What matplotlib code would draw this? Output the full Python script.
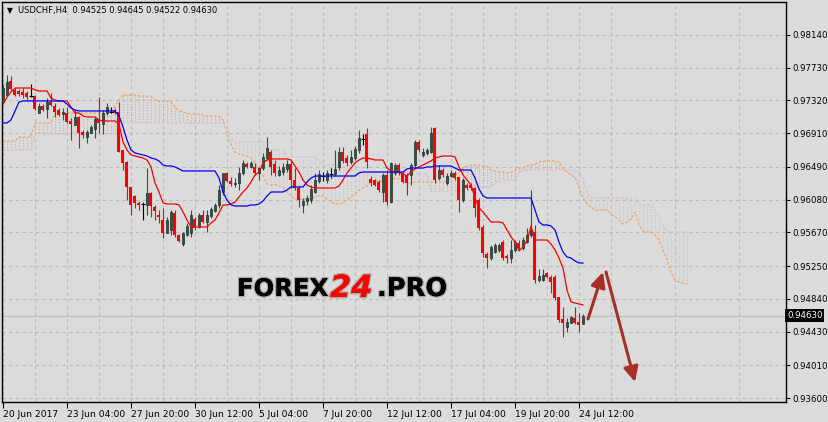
import numpy as np
import matplotlib
matplotlib.use('Agg')
import matplotlib.pyplot as plt
import matplotlib.patheffects as pe

SYMBOL = "USDCHF,H4"

# H4 candles, 20 Jun 2017 .. 24 Jul 2017 16:00
open_ = [
    0.97300, 0.97388, 0.97563, 0.97450, 0.97438, 0.97425, 0.97413, 0.97375, 0.97375, 0.97163,
    0.97250, 0.97213, 0.97300, 0.97250, 0.97200, 0.97150, 0.97163, 0.97063, 0.97013, 0.97113,
    0.96925, 0.96863, 0.96913, 0.96963, 0.97088, 0.97025, 0.97163, 0.97175, 0.97200, 0.97175,
    0.96700, 0.96550, 0.96238, 0.96125, 0.96038, 0.96025, 0.96013, 0.96163, 0.95988, 0.95888,
    0.95825, 0.95663, 0.95700, 0.95913, 0.95638, 0.95525, 0.95638, 0.95663, 0.95838, 0.95738,
    0.95888, 0.95800, 0.95875, 0.95938, 0.96013, 0.96175, 0.96413, 0.96313, 0.96275, 0.96288,
    0.96413, 0.96525, 0.96488, 0.96488, 0.96413, 0.96475, 0.96600, 0.96675, 0.96525, 0.96388,
    0.96425, 0.96463, 0.96525, 0.96325, 0.96225, 0.96013, 0.96063, 0.96075, 0.96175, 0.96313,
    0.96375, 0.96325, 0.96400, 0.96400, 0.96488, 0.96675, 0.96600, 0.96550, 0.96600, 0.96700,
    0.96838, 0.96900, 0.96338, 0.96325, 0.96300, 0.96175, 0.96388, 0.96050, 0.96413, 0.96513,
    0.96413, 0.96388, 0.96388, 0.96513, 0.96800, 0.96638, 0.96663, 0.96675, 0.96975, 0.96350,
    0.96450, 0.96288, 0.96375, 0.96413, 0.96363, 0.96075, 0.96263, 0.96263, 0.96225, 0.96075,
    0.95738, 0.95400, 0.95350, 0.95425, 0.95450, 0.95550, 0.95375, 0.95350, 0.95450, 0.95538,
    0.95475, 0.95550, 0.95638, 0.95675, 0.95075, 0.95075, 0.95163, 0.95113, 0.95113, 0.94863,
    0.94588, 0.94488, 0.94538, 0.94600, 0.94550, 0.94525,
]
high = [
    0.97525, 0.97638, 0.97625, 0.97475, 0.97463, 0.97475, 0.97438, 0.97525, 0.97388, 0.97288,
    0.97275, 0.97350, 0.97413, 0.97288, 0.97225, 0.97225, 0.97238, 0.97100, 0.97200, 0.97125,
    0.96950, 0.96950, 0.97013, 0.97113, 0.97363, 0.97200, 0.97288, 0.97238, 0.97225, 0.97300,
    0.96700, 0.96563, 0.96238, 0.96138, 0.96063, 0.96050, 0.96475, 0.96175, 0.96013, 0.95950,
    0.95975, 0.95863, 0.95950, 0.95950, 0.95650, 0.95675, 0.95788, 0.95950, 0.95863, 0.95913,
    0.95950, 0.95950, 0.95988, 0.96038, 0.96263, 0.96413, 0.96425, 0.96363, 0.96350, 0.96488,
    0.96575, 0.96550, 0.96563, 0.96538, 0.96488, 0.96663, 0.96863, 0.96700, 0.96575, 0.96500,
    0.96538, 0.96575, 0.96575, 0.96475, 0.96250, 0.96100, 0.96138, 0.96263, 0.96413, 0.96450,
    0.96425, 0.96450, 0.96475, 0.96700, 0.96738, 0.96738, 0.96638, 0.96700, 0.96750, 0.96950,
    0.96900, 0.96975, 0.96375, 0.96338, 0.96325, 0.96413, 0.96450, 0.96550, 0.96538, 0.96538,
    0.96425, 0.96413, 0.96538, 0.96825, 0.96825, 0.96725, 0.96725, 0.96988, 0.96988, 0.96513,
    0.96475, 0.96413, 0.96450, 0.96438, 0.96363, 0.96350, 0.96288, 0.96288, 0.96238, 0.96100,
    0.95763, 0.95425, 0.95513, 0.95538, 0.95538, 0.95575, 0.95400, 0.95575, 0.95575, 0.95575,
    0.95613, 0.95725, 0.96200, 0.95763, 0.95213, 0.95213, 0.95175, 0.95138, 0.95138, 0.94863,
    0.94738, 0.94600, 0.94625, 0.94738, 0.94663, 0.94645,
]
low = [
    0.97275, 0.97375, 0.97450, 0.97375, 0.97375, 0.97350, 0.97325, 0.97363, 0.97200, 0.97163,
    0.97188, 0.97100, 0.97250, 0.97113, 0.97125, 0.97075, 0.97038, 0.96825, 0.97013, 0.96725,
    0.96850, 0.96788, 0.96913, 0.96850, 0.96913, 0.96900, 0.97138, 0.97163, 0.97150, 0.96675,
    0.96450, 0.96075, 0.95888, 0.95975, 0.95950, 0.95825, 0.95888, 0.95863, 0.95825, 0.95788,
    0.95600, 0.95663, 0.95638, 0.95613, 0.95550, 0.95500, 0.95625, 0.95613, 0.95700, 0.95725,
    0.95788, 0.95675, 0.95850, 0.95925, 0.95975, 0.96138, 0.96300, 0.96250, 0.96238, 0.96200,
    0.96388, 0.96475, 0.96475, 0.96388, 0.96325, 0.96450, 0.96575, 0.96388, 0.96375, 0.96375,
    0.96388, 0.96425, 0.96225, 0.96200, 0.95988, 0.95913, 0.96013, 0.96038, 0.96163, 0.96288,
    0.96313, 0.96288, 0.96350, 0.96375, 0.96450, 0.96538, 0.96500, 0.96525, 0.96575, 0.96663,
    0.96763, 0.96475, 0.96250, 0.96250, 0.96175, 0.96050, 0.96013, 0.96038, 0.96388, 0.96388,
    0.96288, 0.96138, 0.96263, 0.96488, 0.96675, 0.96613, 0.96638, 0.96663, 0.96288, 0.96325,
    0.96363, 0.96263, 0.96363, 0.96325, 0.95925, 0.96050, 0.96200, 0.96200, 0.95863, 0.95700,
    0.95363, 0.95225, 0.95325, 0.95413, 0.95425, 0.95325, 0.95288, 0.95288, 0.95425, 0.95450,
    0.95450, 0.95538, 0.95613, 0.95038, 0.95050, 0.95063, 0.95100, 0.94913, 0.94825, 0.94550,
    0.94363, 0.94425, 0.94538, 0.94525, 0.94425, 0.94522,
]
close = [
    0.97475, 0.97550, 0.97463, 0.97388, 0.97400, 0.97388, 0.97363, 0.97375, 0.97213, 0.97250,
    0.97200, 0.97300, 0.97263, 0.97175, 0.97138, 0.97175, 0.97050, 0.97025, 0.97113, 0.96913,
    0.96888, 0.96925, 0.96988, 0.97088, 0.97038, 0.97163, 0.97238, 0.97175, 0.97163, 0.96675,
    0.96538, 0.96238, 0.96013, 0.96038, 0.96013, 0.96025, 0.96163, 0.96000, 0.95938, 0.95863,
    0.95663, 0.95825, 0.95925, 0.95638, 0.95563, 0.95663, 0.95750, 0.95888, 0.95725, 0.95888,
    0.95800, 0.95888, 0.95963, 0.96013, 0.96200, 0.96413, 0.96313, 0.96275, 0.96288, 0.96413,
    0.96538, 0.96488, 0.96538, 0.96413, 0.96475, 0.96613, 0.96725, 0.96488, 0.96413, 0.96450,
    0.96488, 0.96525, 0.96325, 0.96225, 0.96075, 0.96063, 0.96100, 0.96213, 0.96325, 0.96400,
    0.96375, 0.96413, 0.96400, 0.96463, 0.96675, 0.96563, 0.96538, 0.96613, 0.96713, 0.96850,
    0.96838, 0.96550, 0.96288, 0.96263, 0.96200, 0.96388, 0.96050, 0.96538, 0.96513, 0.96413,
    0.96300, 0.96288, 0.96513, 0.96800, 0.96700, 0.96675, 0.96700, 0.96913, 0.96325, 0.96450,
    0.96388, 0.96375, 0.96413, 0.96350, 0.96075, 0.96325, 0.96225, 0.96225, 0.95975, 0.95725,
    0.95413, 0.95350, 0.95488, 0.95513, 0.95513, 0.95350, 0.95350, 0.95450, 0.95550, 0.95475,
    0.95575, 0.95638, 0.95700, 0.95075, 0.95125, 0.95138, 0.95113, 0.95050, 0.94850, 0.94575,
    0.94538, 0.94550, 0.94613, 0.94538, 0.94513, 0.94630,
]

# Ichimoku (9, 26, 52)
tenkan = [
    0.97275, 0.97363, 0.97425, 0.97475, 0.97475, 0.97475, 0.97475, 0.97475, 0.97450, 0.97438,
    0.97438, 0.97438, 0.97350, 0.97325, 0.97313, 0.97313, 0.97313, 0.97238, 0.97163, 0.97163,
    0.97125, 0.97113, 0.97113, 0.97113, 0.97075, 0.97063, 0.97063, 0.97063, 0.97063, 0.97025,
    0.96800, 0.96700, 0.96638, 0.96625, 0.96613, 0.96600, 0.96575, 0.96488, 0.96288, 0.96175,
    0.96038, 0.96025, 0.96025, 0.96025, 0.96013, 0.95925, 0.95825, 0.95738, 0.95738, 0.95738,
    0.95738, 0.95738, 0.95788, 0.95825, 0.95913, 0.96013, 0.96013, 0.96025, 0.96050, 0.96113,
    0.96175, 0.96225, 0.96300, 0.96388, 0.96425, 0.96538, 0.96575, 0.96588, 0.96588, 0.96588,
    0.96588, 0.96588, 0.96575, 0.96500, 0.96425, 0.96325, 0.96263, 0.96238, 0.96225, 0.96225,
    0.96225, 0.96225, 0.96225, 0.96225, 0.96250, 0.96325, 0.96413, 0.96475, 0.96538, 0.96575,
    0.96600, 0.96600, 0.96588, 0.96575, 0.96575, 0.96575, 0.96475, 0.96438, 0.96425, 0.96425,
    0.96400, 0.96375, 0.96425, 0.96463, 0.96488, 0.96513, 0.96538, 0.96563, 0.96600, 0.96613,
    0.96625, 0.96625, 0.96625, 0.96613, 0.96488, 0.96388, 0.96325, 0.96263, 0.96100, 0.95975,
    0.95925, 0.95863, 0.95800, 0.95800, 0.95800, 0.95788, 0.95700, 0.95613, 0.95550, 0.95438,
    0.95488, 0.95563, 0.95750, 0.95575, 0.95575, 0.95575, 0.95575, 0.95525, 0.95450, 0.95350,
    0.95225, 0.94950, 0.94800, 0.94788, 0.94775, 0.94763,
]
kijun = [
    0.97038, 0.97038, 0.97075, 0.97188, 0.97300, 0.97313, 0.97313, 0.97313, 0.97313, 0.97313,
    0.97313, 0.97313, 0.97313, 0.97313, 0.97313, 0.97313, 0.97275, 0.97225, 0.97200, 0.97188,
    0.97188, 0.97188, 0.97188, 0.97188, 0.97188, 0.97188, 0.97188, 0.97188, 0.97188, 0.97125,
    0.96988, 0.96825, 0.96700, 0.96663, 0.96650, 0.96638, 0.96625, 0.96600, 0.96588, 0.96563,
    0.96513, 0.96500, 0.96500, 0.96488, 0.96463, 0.96438, 0.96438, 0.96438, 0.96438, 0.96438,
    0.96438, 0.96438, 0.96438, 0.96438, 0.96350, 0.96175, 0.96075, 0.96013, 0.96000, 0.96000,
    0.96000, 0.96000, 0.96013, 0.96013, 0.96025, 0.96063, 0.96125, 0.96175, 0.96175, 0.96175,
    0.96175, 0.96200, 0.96238, 0.96238, 0.96238, 0.96238, 0.96300, 0.96350, 0.96375, 0.96375,
    0.96375, 0.96375, 0.96375, 0.96375, 0.96375, 0.96375, 0.96375, 0.96375, 0.96375, 0.96413,
    0.96425, 0.96425, 0.96425, 0.96425, 0.96425, 0.96425, 0.96425, 0.96425, 0.96425, 0.96425,
    0.96425, 0.96463, 0.96475, 0.96475, 0.96475, 0.96475, 0.96488, 0.96488, 0.96500, 0.96500,
    0.96500, 0.96500, 0.96500, 0.96475, 0.96450, 0.96450, 0.96450, 0.96450, 0.96350, 0.96213,
    0.96125, 0.96100, 0.96100, 0.96100, 0.96100, 0.96100, 0.96100, 0.96100, 0.96100, 0.96100,
    0.96100, 0.96100, 0.96100, 0.95950, 0.95800, 0.95763, 0.95763, 0.95750, 0.95700, 0.95550,
    0.95425, 0.95363, 0.95350, 0.95313, 0.95288, 0.95288,
]
# senkou spans, already shifted 26 bars ahead
span_a = [
    0.96813, 0.96813, 0.96813, 0.96813, 0.96863, 0.96863, 0.96863, 0.96863, 0.97038, 0.97038,
    0.97038, 0.97038, 0.97038, 0.97163, 0.97163, 0.97163, 0.97163, 0.97163, 0.97163, 0.97163,
    0.97163, 0.97163, 0.97163, 0.97163, 0.97163, 0.97163, 0.97163, 0.97200, 0.97250, 0.97325,
    0.97388, 0.97388, 0.97388, 0.97388, 0.97375, 0.97375, 0.97375, 0.97375, 0.97325, 0.97313,
    0.97313, 0.97313, 0.97300, 0.97238, 0.97188, 0.97175, 0.97163, 0.97150, 0.97150, 0.97150,
    0.97138, 0.97125, 0.97125, 0.97125, 0.97125, 0.97075, 0.96900, 0.96763, 0.96675, 0.96650,
    0.96638, 0.96625, 0.96600, 0.96550, 0.96438, 0.96375, 0.96275, 0.96263, 0.96263, 0.96250,
    0.96238, 0.96175, 0.96125, 0.96088, 0.96088, 0.96088, 0.96088, 0.96088, 0.96113, 0.96125,
    0.96125, 0.96088, 0.96050, 0.96025, 0.96025, 0.96038, 0.96075, 0.96113, 0.96150, 0.96200,
    0.96225, 0.96250, 0.96313, 0.96313, 0.96313, 0.96313, 0.96313, 0.96313, 0.96350, 0.96338,
    0.96325, 0.96288, 0.96288, 0.96300, 0.96300, 0.96300, 0.96300, 0.96300, 0.96300, 0.96300,
    0.96300, 0.96313, 0.96350, 0.96388, 0.96425, 0.96475, 0.96500, 0.96513, 0.96513, 0.96513,
    0.96500, 0.96500, 0.96450, 0.96438, 0.96425, 0.96425, 0.96413, 0.96425, 0.96450, 0.96475,
    0.96475, 0.96500, 0.96513, 0.96525, 0.96550, 0.96563, 0.96563, 0.96563, 0.96563, 0.96550,
    0.96475, 0.96425, 0.96388, 0.96363, 0.96225, 0.96100, 0.96025, 0.95988, 0.95950, 0.95950,
    0.95950, 0.95950, 0.95900, 0.95863, 0.95825, 0.95775, 0.95800, 0.95838, 0.95925, 0.95763,
    0.95688, 0.95675, 0.95675, 0.95638, 0.95575, 0.95450, 0.95325, 0.95163, 0.95075, 0.95050,
    0.95038, 0.95025,
]
span_b = [
    0.96700, 0.96700, 0.96700, 0.96700, 0.96700, 0.96700, 0.96700, 0.96700, 0.96900, 0.96900,
    0.96900, 0.96900, 0.96900, 0.96900, 0.96900, 0.96900, 0.96900, 0.96900, 0.96900, 0.96900,
    0.96900, 0.96900, 0.96900, 0.96900, 0.96900, 0.96900, 0.96900, 0.96900, 0.96900, 0.96900,
    0.97038, 0.97038, 0.97038, 0.97038, 0.97038, 0.97038, 0.97038, 0.97038, 0.97038, 0.97038,
    0.97038, 0.97038, 0.97038, 0.97038, 0.97038, 0.97038, 0.97038, 0.97038, 0.97038, 0.97038,
    0.97038, 0.97038, 0.97038, 0.97038, 0.97038, 0.97038, 0.96975, 0.96850, 0.96800, 0.96800,
    0.96800, 0.96800, 0.96800, 0.96800, 0.96800, 0.96800, 0.96700, 0.96700, 0.96700, 0.96700,
    0.96700, 0.96613, 0.96613, 0.96613, 0.96613, 0.96613, 0.96613, 0.96613, 0.96613, 0.96563,
    0.96513, 0.96513, 0.96513, 0.96513, 0.96513, 0.96450, 0.96450, 0.96450, 0.96450, 0.96450,
    0.96425, 0.96425, 0.96425, 0.96425, 0.96425, 0.96425, 0.96425, 0.96425, 0.96425, 0.96425,
    0.96425, 0.96425, 0.96400, 0.96400, 0.96400, 0.96400, 0.96400, 0.96188, 0.96188, 0.96188,
    0.96188, 0.96188, 0.96188, 0.96188, 0.96188, 0.96225, 0.96225, 0.96238, 0.96238, 0.96238,
    0.96238, 0.96238, 0.96238, 0.96300, 0.96300, 0.96325, 0.96325, 0.96325, 0.96325, 0.96413,
    0.96450, 0.96450, 0.96450, 0.96450, 0.96450, 0.96450, 0.96450, 0.96450, 0.96450, 0.96450,
    0.96450, 0.96450, 0.96450, 0.96450, 0.96425, 0.96338, 0.96175, 0.96100, 0.96100, 0.96100,
    0.96100, 0.96100, 0.96100, 0.96100, 0.96100, 0.96100, 0.96100, 0.96100, 0.96100, 0.96013,
    0.96013, 0.96013, 0.96013, 0.95938, 0.95900, 0.95763, 0.95675, 0.95675, 0.95675, 0.95675,
    0.95675, 0.95675,
]

price_ticks = [0.98140, 0.97730, 0.97320, 0.96910, 0.96490, 0.96080,
               0.95670, 0.95250, 0.94840, 0.94430, 0.94010, 0.93600]
time_labels = ["20 Jun 2017", "23 Jun 04:00", "27 Jun 20:00", "30 Jun 12:00",
               "5 Jul 04:00", "7 Jul 20:00", "12 Jul 12:00", "17 Jul 04:00",
               "19 Jul 20:00", "24 Jul 12:00"]
last_price = close[-1]

BG = '#dcdcdc'
GRID = '#bcbcbc'
BULL = '#2f5548'
BEAR = '#ff0000'
SANDY = '#f4a460'
THISTLE = '#d8bfd8'
ARROW = '#a82e28'

W, H = 829, 422
fig = plt.figure(figsize=(W / 100, H / 100), dpi=100, facecolor=BG)
ax = fig.add_axes([2 / W, 20 / H, 784 / W, 400 / H], facecolor=BG)

o = np.array(open_)
h = np.array(high)
l = np.array(low)
c = np.array(close)
x = np.arange(len(c))

# kumo: dotted histogram between the spans
a = np.array(span_a)
b = np.array(span_b)
xc = np.arange(len(a))
hatch_cols = [SANDY if va >= vb else THISTLE for va, vb in zip(a, b)]
ax.vlines(xc, a, b, colors=hatch_cols, linestyles=[(0, (1, 1.5))] * len(xc), lw=0.8, zorder=1)
ax.plot(xc, a, color=SANDY, ls=(0, (2, 1.5)), lw=0.9, zorder=2)
ax.plot(xc, b, color=THISTLE, ls=(0, (2, 1.5)), lw=0.9, zorder=2)

ax.axhline(last_price, color='#c0c0c0', lw=0.9, zorder=2)

# candles
up = c > o
dn = c < o
dj = c == o
ax.vlines(x[up], l[up], h[up], color=BULL, lw=0.8, zorder=3)
ax.bar(x[up], c[up] - o[up], bottom=o[up], width=0.7, color=BULL,
       edgecolor='#1d302a', lw=0.5, zorder=4)
ax.vlines(x[dn], l[dn], h[dn], color=BEAR, lw=0.8, zorder=3)
ax.bar(x[dn], o[dn] - c[dn], bottom=c[dn], width=0.75, color=BEAR, lw=0, zorder=4)
ax.vlines(x[dj], l[dj], h[dj], color='black', lw=0.8, zorder=3)
ax.hlines(o[dj], x[dj] - 0.4, x[dj] + 0.4, color='black', lw=0.8, zorder=4)

ax.plot(x, tenkan, color='red', lw=0.9, zorder=5)
ax.plot(x, kijun, color='blue', lw=0.9, zorder=5)

# forecast arrows
akw = dict(arrowstyle='-|>,head_length=0.45,head_width=0.22', color=ARROW,
           lw=2.2, mutation_scale=20, shrinkA=0, shrinkB=0)
ax.annotate('', xy=(150, 0.95175), xytext=(146.25, 0.94588), arrowprops=akw, zorder=6)
ax.annotate('', xy=(158, 0.93800), xytext=(150.75, 0.95175), arrowprops=akw, zorder=6)

ax.set_xlim(-0.25, 195.75)
ax.set_ylim(0.93550, 0.98550)
ax.yaxis.tick_right()
ax.set_yticks(price_ticks)
ax.set_yticklabels(["%.5f" % p for p in price_ticks])
ax.set_xticks(np.arange(0, 16 * len(time_labels), 16))
ax.set_xticklabels(time_labels, ha='left')
ax.set_xticks(np.arange(8, 196, 16), minor=True)
ax.tick_params(axis='x', which='minor', length=0)
ax.tick_params(axis='x', which='major', direction='out', length=4, width=0.8,
               labelsize=6.6, colors='black', pad=1.5)
ax.tick_params(axis='y', which='major', direction='out', length=3, width=0.8,
               labelsize=6.2, colors='black', pad=1.5)
ax.set_axisbelow(True)
ax.grid(True, which='both', color=GRID, ls=(0, (3, 3)), lw=0.8)
for s in ax.spines.values():
    s.set_color('black')
    s.set_linewidth(1.0)

ax.text(1.0015, last_price, "%.5f" % last_price, transform=ax.get_yaxis_transform(),
        ha='left', va='center', color='white', fontsize=6.2, zorder=10, clip_on=False,
        bbox=dict(boxstyle='square,pad=0.2', fc='black', ec='none'))

fig.text(7 / W, 1 - 11 / H, '\u25bc', fontsize=5.5, va='center', ha='left')
fig.text(18 / W, 1 - 11 / H, "%s  %.5f %.5f %.5f %.5f" % (SYMBOL, o[-1], h[-1], l[-1], c[-1]),
         fontsize=6.0, va='center', ha='left')

# watermark
halo = [pe.withStroke(linewidth=2, foreground='#a8a8a8'), pe.Normal()]
wm = dict(fontweight='bold', va='baseline', ha='left', path_effects=halo, zorder=8)
fig.text(237 / W, 1 - 296 / H, "FOREX", color='black', fontsize=17.5, **wm)
fig.text(330 / W, 1 - 297 / H, "24", color='#ff0000', style='italic', fontsize=22, **wm)
fig.text(377 / W, 1 - 296 / H, ".PRO", color='black', fontsize=18.5, **wm)

fig.savefig('out.png', dpi=100, facecolor=BG)
